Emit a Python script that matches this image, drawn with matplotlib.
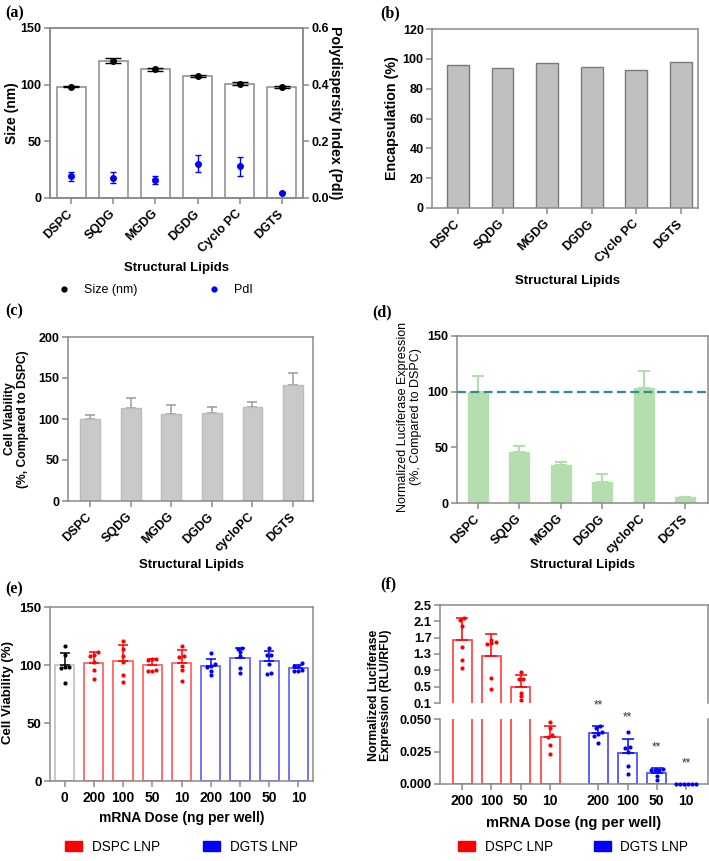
import numpy as np
import matplotlib
matplotlib.use("Agg")
import matplotlib.pyplot as plt
from matplotlib.lines import Line2D
from matplotlib.patches import Patch

# フォント設定 (Arial 相当)
plt.rcParams['font.family'] = ['Liberation Sans', 'DejaVu Sans']
plt.rcParams['font.weight'] = 'bold'
plt.rcParams['axes.labelweight'] = 'bold'

# --- データ ---
lipids_ab = ["DSPC", "SQDG", "MGDG", "DGDG", "Cyclo PC", "DGTS"]
lipids_cd = ["DSPC", "SQDG", "MGDG", "DGDG", "cycloPC", "DGTS"]

# (a) サイズと PdI
size_nm = [98.3, 121.3, 113.4, 107.5, 100.7, 97.7]
size_err = [0.6, 1.9, 1.0, 0.6, 1.4, 1.0]
pdi = [0.076, 0.072, 0.063, 0.121, 0.112, 0.018]
pdi_err = [0.016, 0.020, 0.015, 0.030, 0.033, 0.002]

# (b) 封入率
encapsulation = [95.9, 93.9, 97.0, 94.6, 92.3, 97.9]

# (c) 細胞生存率 (DSPC比)
viability_rel = [100.0, 113.9, 105.7, 107.1, 115.0, 141.2]
viability_rel_err = [4.5, 11.3, 11.0, 7.2, 5.4, 15.5]

# (d) ルシフェラーゼ発現 (DSPC比)
luc_rel = [100.0, 46.2, 33.9, 18.9, 103.5, 5.1]
luc_rel_err = [14.3, 4.8, 3.3, 6.9, 15.5, 0.4]

# (e) 用量別の細胞生存率
dose_e = ["0", "200", "100", "50", "10", "200", "100", "50", "10"]
group_e = ["ctrl", "DSPC", "DSPC", "DSPC", "DSPC", "DGTS", "DGTS", "DGTS", "DGTS"]
viab_mean = [99.8, 102.1, 103.8, 99.8, 102.0, 99.2, 106.4, 103.5, 97.5]
viab_err = [10.9, 8.9, 13.8, 5.2, 11.3, 6.3, 8.6, 8.9, 2.9]
viab_pts = [
    [116.5, 109.0, 98.5, 98.5, 97.0, 84.5],
    [111.0, 109.0, 108.0, 103.0, 96.0, 88.0],
    [121.0, 114.0, 107.5, 103.0, 91.0, 85.0],
    [105.0, 105.0, 104.0, 95.0, 95.0, 96.0],
    [116.4, 107.5, 107.0, 99.2, 95.5, 86.0],
    [110.5, 101.0, 99.0, 98.5, 95.0, 91.0],
    [115.0, 114.0, 111.0, 108.0, 97.0, 93.5],
    [114.7, 108.4, 109.0, 101.2, 92.6, 93.2],
    [99.2, 102.1, 98.9, 94.9, 94.6, 95.5],
]

# (f) 用量別のルシフェラーゼ発現
dose_f = ["200", "100", "50", "10", "200", "100", "50", "10"]
group_f = ["DSPC", "DSPC", "DSPC", "DSPC", "DGTS", "DGTS", "DGTS", "DGTS"]
lucf_mean = [1.646, 1.255, 0.498, 0.0365, 0.0395, 0.0237, 0.0086, 0.0]
lucf_err = [0.529, 0.529, 0.293, 0.0084, 0.0051, 0.0112, 0.0036, 0.0]
lucf_pts = [
    [2.134, 2.175, 1.995, 1.467, 1.157, 0.962],
    [1.605, 1.556, 1.572, 1.654, 0.710, 0.450],
    [0.864, 0.677, 0.685, 0.336, 0.262, 0.181],
    [0.0474, 0.0434, 0.0362, 0.0378, 0.0301, 0.0230],
    [0.0434, 0.0449, 0.0403, 0.0388, 0.0367, 0.0314],
    [0.0398, 0.0281, 0.0276, 0.0245, 0.0140, 0.0079],
    [0.0117, 0.0107, 0.0107, 0.0107, 0.0064, 0.0028],
    [0.0, 0.0, 0.0, 0.0, 0.0, 0.0],
]

W, H = 709, 861
SPINE = '#8a8a8a'
bar_edge = {'ctrl': '#c4c4c4', 'DSPC': '#ff6464', 'DGTS': '#6868ff'}
pt_col = {'ctrl': 'black', 'DSPC': '#ff0000', 'DGTS': '#0000ff'}


def add_ax(fig, left, top, right, bottom):
    """ピクセル座標から axes を追加する"""
    return fig.add_axes([left / W, 1 - bottom / H, (right - left) / W, (bottom - top) / H])


def style_ax(ax, size=9):
    for s in ax.spines.values():
        s.set_color(SPINE)
        s.set_linewidth(1.1)
    ax.tick_params(direction='out', length=4, width=1.1, color=SPINE,
                   labelsize=size, pad=2)


def set_labels(ax, xlabel, xpos, ylabel, ypos, xsize=9.5, ysize=9.5, yweight='bold'):
    """軸ラベルを中心位置で配置する"""
    if xlabel:
        ax.set_xlabel(xlabel, fontsize=xsize)
        ax.xaxis.label.set_va('center')
        ax.xaxis.set_label_coords(*xpos)
    if ylabel:
        ax.set_ylabel(ylabel, fontsize=ysize, fontweight=yweight, linespacing=1.05)
        ax.yaxis.label.set_va('center')
        ax.yaxis.set_label_coords(*ypos)


def swarm_offsets(vals, span, width=0.13, thr=0.025):
    """近い値の点を横に並べる (GraphPad 風)"""
    vals = np.asarray(vals, float)
    order = np.argsort(vals)
    offs = np.zeros(len(vals))
    clusters = []
    cur = [order[0]]
    for i in order[1:]:
        if (vals[i] - vals[cur[-1]]) / span < thr:
            cur.append(i)
        else:
            clusters.append(cur)
            cur = [i]
    clusters.append(cur)
    for c in clusters:
        n = len(c)
        for k, idx in enumerate(c):
            offs[idx] = (k - (n - 1) / 2) * width
    return offs


def rotated_xticks(ax, labels, size=9):
    ax.set_xticks(np.arange(len(labels)))
    ax.set_xticklabels(labels, rotation=45, ha='right', va='center',
                       rotation_mode='anchor', fontsize=size)
    ax.tick_params(axis='x', pad=6)


fig = plt.figure(figsize=(W / 100, H / 100), dpi=100)

# ---------------- (a) ----------------
ax_a = add_ax(fig, 50, 28, 303, 198)
xa = np.arange(len(lipids_ab))
ax_a.bar(xa, size_nm, width=0.69, color='white', edgecolor=SPINE, linewidth=1.1, zorder=1)
ax_a.errorbar(xa, size_nm, yerr=size_err, fmt='o', color='black', ms=4,
              capsize=5.5, elinewidth=1, capthick=1, zorder=3)
ax_a.set_xlim(-0.5, 5.5)
ax_a.set_ylim(0, 150)
ax_a.set_yticks([0, 50, 100, 150])
style_ax(ax_a)
rotated_xticks(ax_a, lipids_ab)
set_labels(ax_a, "Structural Lipids", (0.5, -0.41), "Size (nm)", (-0.15, 0.5), ysize=10)

ax_a2 = ax_a.twinx()
ax_a2.errorbar(xa, pdi, yerr=pdi_err, fmt='o', color='#0000ff', ms=4,
               capsize=2.2, elinewidth=1, capthick=1, zorder=3)
ax_a2.set_ylim(0, 0.6)
ax_a2.set_yticks([0, 0.2, 0.4, 0.6], ["0.0", "0.2", "0.4", "0.6"])
style_ax(ax_a2)
ax_a2.set_ylabel("Polydispersity Index (PdI)", fontsize=10.2, rotation=270)
ax_a2.yaxis.label.set_va('center')
ax_a2.yaxis.set_label_coords(1.125, 0.5)

fig.legend(handles=[Line2D([], [], marker='o', color='black', ls='none', ms=3.5),
                    Line2D([], [], marker='o', color='#0000ff', ls='none', ms=3.5)],
           labels=["Size (nm)", "PdI"], loc='center left',
           bbox_to_anchor=(58 / W, 1 - 290 / H), ncol=2, frameon=False,
           prop={'size': 9, 'weight': 'normal'}, handlelength=1.0,
           handletextpad=1.1, columnspacing=5.6, borderpad=0, borderaxespad=0)

# ---------------- (b) ----------------
ax_b = add_ax(fig, 432, 29, 698, 208)
xb = np.arange(len(lipids_ab))
ax_b.bar(xb, encapsulation, width=0.49, color='#c0c0c0', edgecolor='#7a7a7a', linewidth=1.0)
ax_b.set_xlim(-0.58, 5.38)
ax_b.set_ylim(0, 120)
ax_b.set_yticks(np.arange(0, 121, 20))
style_ax(ax_b)
rotated_xticks(ax_b, lipids_ab)
set_labels(ax_b, "Structural Lipids", (0.51, -0.41), "Encapsulation (%)", (-0.15, 0.5),
           ysize=10.3)

# ---------------- (c) ----------------
ax_c = add_ax(fig, 68, 337, 313, 501)
xc = np.arange(len(lipids_cd))
ax_c.errorbar(xc, viability_rel, yerr=[np.zeros(6), viability_rel_err], fmt='none',
              ecolor='#9a9a9a', elinewidth=1.1, capsize=3.8, capthick=1.1, zorder=1)
ax_c.bar(xc, viability_rel, width=0.49, color='#c9c9c9', edgecolor='#bcbcbc',
         linewidth=1.0, zorder=2)
ax_c.set_xlim(-0.54, 5.49)
ax_c.set_ylim(0, 200)
ax_c.set_yticks([0, 50, 100, 150, 200])
style_ax(ax_c)
rotated_xticks(ax_c, lipids_cd)
set_labels(ax_c, "Structural Lipids", (0.506, -0.39),
           "Cell Viability\n(%, Compared to DSPC)", (-0.21, 0.5), ysize=8.7)

# ---------------- (d) ----------------
ax_d = add_ax(fig, 457, 336, 708, 503)
xd = np.arange(len(lipids_cd))
green = '#b5deae'
ax_d.errorbar(xd, luc_rel, yerr=[np.zeros(6), luc_rel_err], fmt='none',
              ecolor=green, elinewidth=1.5, capsize=4.6, capthick=1.5, zorder=1)
ax_d.bar(xd, luc_rel, width=0.48, color=green, edgecolor=green, linewidth=1.0, zorder=2)
ax_d.axhline(100, color='#2a9090', lw=1.6, ls=(0, (4, 2)), zorder=3)
ax_d.set_xlim(-0.5, 5.55)
ax_d.set_ylim(0, 150)
ax_d.set_yticks([0, 50, 100, 150])
style_ax(ax_d)
rotated_xticks(ax_d, lipids_cd)
set_labels(ax_d, "Structural Lipids", (0.5, -0.37),
           "Normalized Luciferase Expression\n(%, Compared to DSPC)", (-0.19, 0.515),
           ysize=9, yweight='normal')

# ---------------- (e) ----------------
ax_e = add_ax(fig, 50, 607, 313, 781)
xe = np.arange(len(dose_e))
for i, g in enumerate(group_e):
    ax_e.bar(xe[i], viab_mean[i], width=0.66, color='white', edgecolor=bar_edge[g],
             linewidth=1.3, zorder=1)
    ax_e.errorbar(xe[i], viab_mean[i], yerr=[[0], [viab_err[i]]], fmt='none',
                  ecolor=pt_col[g], elinewidth=1.1, capsize=3.6, capthick=1.1, zorder=2)
    offs = swarm_offsets(viab_pts[i], 150, width=0.14, thr=0.02)
    ax_e.scatter(xe[i] + offs, viab_pts[i], s=9, color=pt_col[g], zorder=3, linewidths=0)
ax_e.set_xlim(-0.5, 8.5)
ax_e.set_ylim(0, 150)
ax_e.set_yticks([0, 50, 100, 150])
ax_e.set_xticks(xe, dose_e)
style_ax(ax_e, size=9.5)
ax_e.tick_params(axis='x', labelsize=10, pad=3)
set_labels(ax_e, "mRNA Dose (ng per well)", (0.5, -0.21), "Cell Viability (%)",
           (-0.16, 0.506), xsize=10, ysize=9.5)

leg_handles = [Patch(color='#ff0000'), Patch(color='#0000ff')]
fig.legend(handles=leg_handles, labels=["DSPC LNP", "DGTS LNP"], loc='center left',
           bbox_to_anchor=(65 / W, 1 - 847 / H), ncol=2, frameon=False,
           prop={'size': 9.8, 'weight': 'normal'}, handlelength=1.25, handleheight=0.7,
           handletextpad=0.7, columnspacing=3.2, borderpad=0, borderaxespad=0)

# ---------------- (f) 分割軸 ----------------
ax_ft = add_ax(fig, 440, 605, 708, 703)
ax_fb = add_ax(fig, 440, 719, 708, 784)
xf = np.r_[np.arange(4), np.arange(4) + 4.65]
f_edge = {'DSPC': '#ff4a4a', 'DGTS': '#5252ff'}
for ax in (ax_ft, ax_fb):
    for i, g in enumerate(group_f):
        ax.bar(xf[i], lucf_mean[i], width=0.65, color='white', edgecolor=f_edge[g],
               linewidth=1.3, zorder=1)
        ax.errorbar(xf[i], lucf_mean[i], yerr=[[0], [lucf_err[i]]], fmt='none',
                    ecolor=pt_col[g], elinewidth=1.1, capsize=4.3, capthick=1.1, zorder=2)
    ax.set_xlim(-0.76, 8.4)
    style_ax(ax, size=9.3)

for i, g in enumerate(group_f):
    pts = np.asarray(lucf_pts[i])
    if pts.max() > 0.08:
        offs = swarm_offsets(pts, 2.4, width=0.14, thr=0.02)
        ax_ft.scatter(xf[i] + offs, pts, s=9, color=pt_col[g], zorder=3, linewidths=0)
    else:
        offs = swarm_offsets(pts, 0.05, width=0.14, thr=0.05)
        ax_fb.scatter(xf[i] + offs, pts, s=9, color=pt_col[g], zorder=3,
                      linewidths=0, clip_on=False)
    if g == 'DGTS':
        ax_fb.text(xf[i], lucf_mean[i] + lucf_err[i] + 0.016, "**", ha='center',
                   va='center', fontsize=8.5, fontweight='normal', color='#333333')

ax_ft.set_ylim(0.1, 2.5)
ax_ft.set_yticks([0.1, 0.5, 0.9, 1.3, 1.7, 2.1, 2.5])
ax_ft.set_yticklabels(["0.1", "0.5", "0.9", "1.3", "1.7", "2.1", "2.5"])
ax_ft.spines['bottom'].set_visible(False)
ax_ft.set_xticks([])

ax_fb.set_ylim(0, 0.05)
ax_fb.set_yticks([0, 0.025, 0.05], ["0.000", "0.025", "0.050"])
ax_fb.spines['top'].set_visible(False)
ax_fb.set_xticks(xf, dose_f)
ax_fb.tick_params(axis='x', labelsize=10, pad=3)

fig.text(380 / W, 1 - 695 / H, "Normalized Luciferase\nExpression (RLU/RFU)", rotation=90,
         ha='center', va='center', fontsize=8.8, fontweight='bold', linespacing=1.05)
fig.text(574 / W, 1 - 823 / H, "mRNA Dose (ng per well)", ha='center', va='center',
         fontsize=10.5, fontweight='bold')

fig.legend(handles=leg_handles, labels=["DSPC LNP", "DGTS LNP"], loc='center left',
           bbox_to_anchor=(458 / W, 1 - 847 / H), ncol=2, frameon=False,
           prop={'size': 9.8, 'weight': 'normal'}, handlelength=1.25, handleheight=0.7,
           handletextpad=0.7, columnspacing=3.0, borderpad=0, borderaxespad=0)

# パネルラベル
for lab, x, y in [("(a)", 5, 13), ("(b)", 380, 13), ("(c)", 5, 311),
                  ("(d)", 372, 312), ("(e)", 5, 589), ("(f)", 380, 584)]:
    fig.text(x / W, 1 - y / H, lab, ha='left', va='center', fontsize=11.5,
             fontweight='bold', family=['Liberation Serif', 'DejaVu Serif'])

fig.savefig("out.png", dpi=100)
